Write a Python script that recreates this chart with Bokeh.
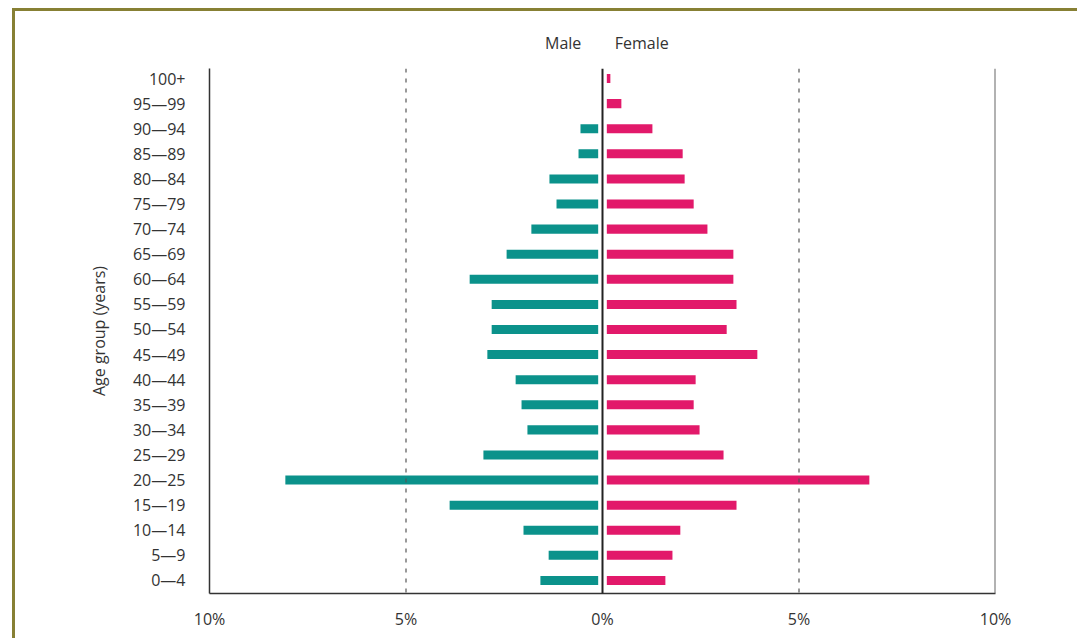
from bokeh.plotting import figure
from bokeh.models import ColumnDataSource, FixedTicker, LinearAxis, Span
from bokeh.embed import file_html
from bokeh.resources import INLINE

# ---------------- data ----------------
age_groups = ["0\u20144", "5\u20149", "10\u201414", "15\u201419", "20\u201425",
              "25\u201429", "30\u201434", "35\u201439", "40\u201444", "45\u201449",
              "50\u201454", "55\u201459", "60\u201464", "65\u201469", "70\u201474",
              "75\u201479", "80\u201484", "85\u201489", "90\u201494", "95\u201499",
              "100+"]
male_pct = [1.58, 1.37, 2.01, 3.89, 8.07, 3.03, 1.91, 2.06, 2.21, 2.93,
            2.82, 2.82, 3.38, 2.44, 1.81, 1.17, 1.35, 0.61, 0.56, 0.0, 0.0]
female_pct = [1.60, 1.78, 1.98, 3.41, 6.79, 3.08, 2.47, 2.32, 2.37, 3.94,
              3.16, 3.41, 3.33, 3.33, 2.67, 2.32, 2.09, 2.04, 1.27, 0.48, 0.20]
x_ticks = [-10, -5, 0, 5, 10]
x_tick_labels = ["10%", "5%", "0%", "5%", "10%"]
sex_labels = ["Male", "Female"]

# ---------------- style ----------------
FONT = "Open Sans"
TXT = "#333333"
TEAL = "#0b928b"
PINK = "#e2196a"
GAP = 0.11
BAR_H = 0.36

ypos = list(range(len(age_groups)))
m_idx = [i for i, v in enumerate(male_pct) if v > 0]
male_src = ColumnDataSource(dict(
    y=[ypos[i] for i in m_idx],
    left=[-male_pct[i] for i in m_idx],
    right=[-GAP] * len(m_idx)))
f_idx = [i for i, v in enumerate(female_pct) if v > 0]
female_src = ColumnDataSource(dict(
    y=[ypos[i] for i in f_idx],
    left=[GAP] * len(f_idx),
    right=[female_pct[i] for i in f_idx]))

p = figure(width=1065, height=630, x_range=(-10, 10), y_range=(-0.52, 20.4),
           output_backend="svg", toolbar_location=None,
           min_border_left=194, min_border_right=85,
           min_border_top=57, min_border_bottom=48)
p.outline_line_color = None
p.background_fill_color = "white"
p.border_fill_color = "white"
p.grid.visible = False
p.margin = (8, 0, 0, 12)
p.styles = {"border-top": "3px solid #878034",
            "border-left": "3px solid #878034"}

p.hbar(y="y", left="left", right="right", height=BAR_H, source=male_src,
       fill_color=TEAL, line_color=None)
p.hbar(y="y", left="left", right="right", height=BAR_H, source=female_src,
       fill_color=PINK, line_color=None)

# reference lines
for xv in (-5, 5):
    p.add_layout(Span(location=xv, dimension="height", line_color="#555555",
                      line_width=1.2, line_dash="4 6"))
p.add_layout(Span(location=0, dimension="height", line_color="#222222",
                  line_width=2))
p.add_layout(Span(location=10, dimension="height", line_color="#666666",
                  line_width=2))

# x axis
xa = p.xaxis[0]
xa.ticker = FixedTicker(ticks=x_ticks)
xa.major_label_overrides = {t: l for t, l in zip(x_ticks, x_tick_labels)}
xa.major_tick_out = 0
xa.major_tick_in = 0
xa.minor_tick_out = 0
xa.minor_tick_in = 0
xa.axis_line_color = "#333333"
xa.axis_line_width = 1.5
xa.major_label_text_font = FONT
xa.major_label_text_font_size = "16px"
xa.major_label_text_color = TXT
xa.major_label_standoff = 14

# y axis
ya = p.yaxis[0]
ya.ticker = FixedTicker(ticks=ypos)
ya.major_label_overrides = {i: g for i, g in zip(ypos, age_groups)}
ya.major_tick_out = 0
ya.major_tick_in = 0
ya.minor_tick_out = 0
ya.minor_tick_in = 0
ya.axis_line_color = "#333333"
ya.axis_line_width = 1.5
ya.major_label_text_font = FONT
ya.major_label_text_font_size = "16px"
ya.major_label_text_color = TXT
ya.major_label_standoff = 24
ya.axis_label = "Age group (years)"
ya.axis_label_text_font = FONT
ya.axis_label_text_font_size = "16px"
ya.axis_label_text_font_style = "normal"
ya.axis_label_text_color = TXT
ya.axis_label_standoff = 20

# top "axis" with sex labels
top = LinearAxis(ticker=FixedTicker(ticks=[-1, 1]),
                 major_label_overrides={-1: sex_labels[0], 1: sex_labels[1]})
top.axis_line_color = None
top.major_tick_line_color = None
top.minor_tick_line_color = None
top.major_label_text_font = FONT
top.major_label_text_font_size = "16px"
top.major_label_text_color = TXT
top.major_label_standoff = 9
p.add_layout(top, "above")

open("out.html", "w").write(file_html(p, INLINE))
